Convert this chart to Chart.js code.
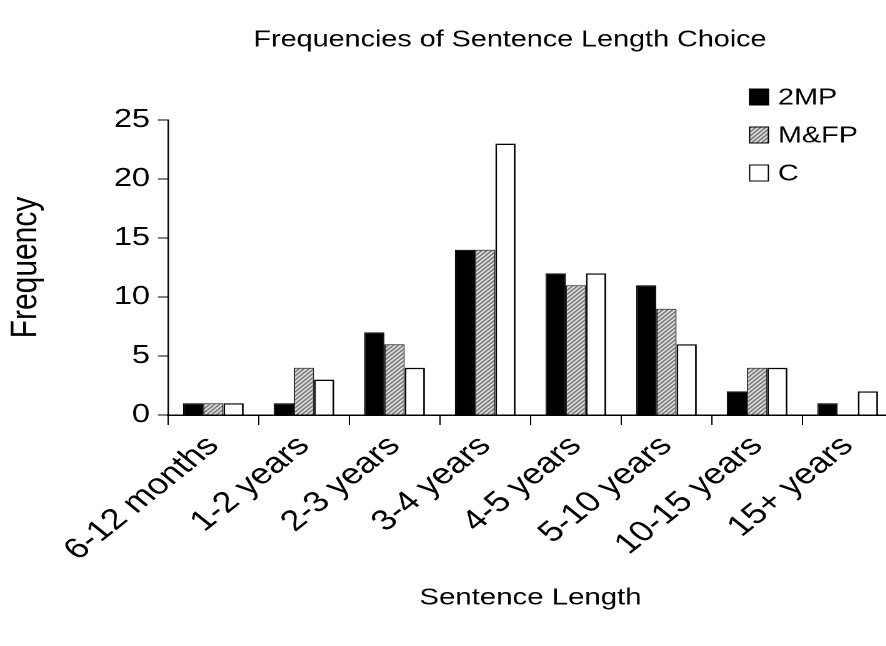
<!DOCTYPE html>
<html>
<head>
<meta charset="utf-8">
<script src="https://cdn.jsdelivr.net/npm/chart.js@4"></script>
<style>
  html, body { margin: 0; padding: 0; background: #fff; overflow: hidden; }
  #wrap { width: 886px; height: 646px; overflow: hidden; }
</style>
</head>
<body>
<!-- the source picture is stretched sideways, so the canvas is drawn narrower and widened by css -->
<div id="wrap"><canvas id="chart" width="720" height="646" style="width:900px;height:646px;display:block"></canvas></div>
<script>
const categories = [
  "6-12 months", "1-2 years", "2-3 years", "3-4 years",
  "4-5 years", "5-10 years", "10-15 years", "15+ years",
];
const seriesNames = ["2MP", "M&FP", "C"];
const twoMP = [1, 1, 7, 14, 12, 11, 2, 1];
const mfp = [1, 4, 6, 14, 11, 9, 4, 0];
const cValues = [1, 3, 4, 23, 12, 6, 4, 2];
const yTicks = [0, 5, 10, 15, 20, 25];
const chartTitle = "Frequencies of Sentence Length Choice";

const FONT = "'Liberation Sans', Arial, sans-serif";

// diagonal hatch like the old excel fill
const makeHatch = () => {
  const c = document.createElement("canvas");
  c.width = 4;
  c.height = 4;
  const ctx = c.getContext("2d");
  ctx.fillStyle = "#fff";
  ctx.fillRect(0, 0, 4, 4);
  ctx.strokeStyle = "#333";
  ctx.lineWidth = 1.2;
  ctx.beginPath();
  ctx.moveTo(-1, 5);
  ctx.lineTo(5, -1);
  ctx.moveTo(-1, 1);
  ctx.lineTo(1, -1);
  ctx.moveTo(3, 5);
  ctx.lineTo(5, 3);
  ctx.stroke();
  return ctx.createPattern(c, "repeat");
};
const hatch = makeHatch();

const fills = ["#000", hatch, "#fff"];

// title over the plot and legend stacked in the top right corner
const decorations = {
  id: "decorations",
  afterDraw(chart) {
    const ctx = chart.ctx;
    ctx.save();
    ctx.fillStyle = "#000";
    ctx.font = "23px " + FONT;
    ctx.textAlign = "center";
    ctx.textBaseline = "middle";
    ctx.fillText(chartTitle, 408, 40);

    ctx.textAlign = "left";
    chart.data.datasets.forEach((ds, i) => {
      const y = 97 + i * 38;
      ctx.fillStyle = ds.backgroundColor;
      ctx.fillRect(599.2, y - 8.5, 16, 17);
      ctx.strokeStyle = "#000";
      ctx.lineWidth = 1;
      ctx.strokeRect(599.7, y - 8, 15, 16);
      ctx.fillStyle = "#000";
      ctx.fillText(ds.label, 622.4, y + 1);
    });
    ctx.restore();
  },
};

new Chart("chart", {
  type: "bar",
  data: {
    labels: categories,
    datasets: [
      { label: seriesNames[0], data: twoMP, backgroundColor: fills[0], borderColor: "#000", borderWidth: 1 },
      { label: seriesNames[1], data: mfp, backgroundColor: fills[1], borderColor: "#222", borderWidth: 1 },
      { label: seriesNames[2], data: cValues, backgroundColor: fills[2], borderColor: "#000", borderWidth: 1.4 },
    ],
  },
  options: {
    responsive: false,
    animation: false,
    devicePixelRatio: 2,
    layout: { padding: { left: 0, right: 5.6, top: 120, bottom: 0 } },
    categoryPercentage: 0.67,
    barPercentage: 1,
    plugins: {
      legend: { display: false },
      tooltip: { enabled: false },
      title: { display: false },
    },
    scales: {
      x: {
        grid: {
          display: true,
          drawOnChartArea: false,
          offset: true,
          color: "#000",
          tickLength: 10,
        },
        border: { display: true, color: "#000", width: 1.5 },
        ticks: {
          color: "#000",
          font: { family: FONT, size: 29 },
          minRotation: 45,
          maxRotation: 45,
          padding: 4,
        },
        title: {
          display: true,
          text: "Sentence Length",
          color: "#000",
          font: { family: FONT, size: 23.5 },
          padding: { top: 0, bottom: 34 },
        },
        afterFit: (scale) => {
          scale.height = 231;
        },
      },
      y: {
        min: 0,
        max: 25,
        afterBuildTicks: (scale) => {
          scale.ticks = yTicks.map((v) => ({ value: v }));
        },
        grid: {
          display: true,
          drawOnChartArea: false,
          color: "#000",
          tickLength: 8,
        },
        border: { display: true, color: "#000", width: 1.2 },
        ticks: {
          color: "#000",
          font: { family: FONT, size: 26 },
          padding: 6.4,
        },
        title: {
          display: true,
          text: "Frequency",
          color: "#000",
          font: { family: FONT, size: 30 },
          padding: { top: 2.8, bottom: 0 },
        },
        afterFit: (scale) => {
          scale.width = 134.4;
        },
      },
    },
  },
  plugins: [decorations],
});
</script>
</body>
</html>
